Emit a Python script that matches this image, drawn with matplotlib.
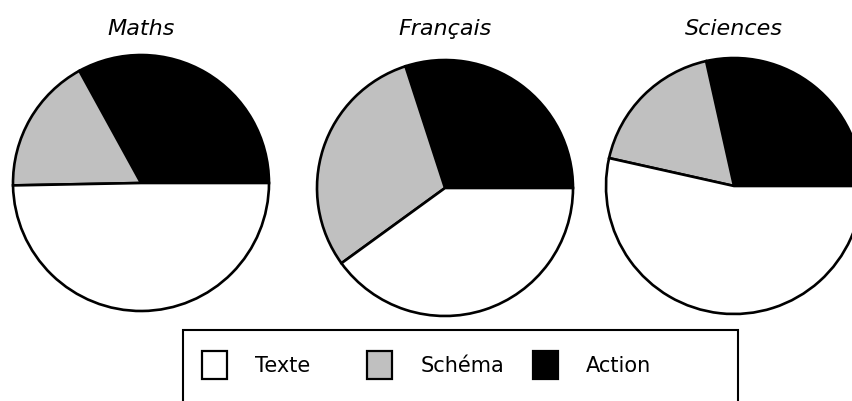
import matplotlib.pyplot as plt
from matplotlib.patches import Rectangle

# Parts of each answer type, per subject (percent)
subjects = ["Maths", "Français", "Sciences"]
labels = ["Action", "Schéma", "Texte"]
maths = [33, 17.3, 49.7]
francais = [30, 30, 40]
sciences = [28.5, 18, 53.5]
colors = ["black", "#c0c0c0", "white"]

W, H = 853, 401
fig = plt.figure(figsize=(W / 100, H / 100), dpi=100)
ax = fig.add_axes([0, 0, 1, 1])

centers = [(141, H - 183), (445, H - 188), (734, H - 186)]
radius = 128

for name, vals, c in zip(subjects, [maths, francais, sciences], centers):
    ax.pie(vals, colors=colors, startangle=0, counterclock=True,
           center=c, radius=radius,
           wedgeprops=dict(edgecolor="black", linewidth=1.9))
    ax.text(c[0], H - 29, name, ha="center", va="center",
            fontsize=16, style="italic")

ax.set_xlim(0, W)
ax.set_ylim(0, H)
ax.set_aspect("equal")
ax.axis("off")

# legend box, runs off the bottom of the picture
ax.add_patch(Rectangle((183, -20), 555, H - 330 + 20, fill=False,
                       edgecolor="black", linewidth=1.5))

# legend entries, evenly spaced like tab stops
order = ["Texte", "Schéma", "Action"]
for i, lab in enumerate(order):
    x0 = 202 + i * 165.5
    ax.add_patch(Rectangle((x0, H - 379), 25, 28,
                           facecolor=colors[labels.index(lab)],
                           edgecolor="black", linewidth=1.6))
    ax.text(x0 + 53, H - 366, lab, ha="left", va="center", fontsize=15)

fig.savefig("out.png", dpi=100)
